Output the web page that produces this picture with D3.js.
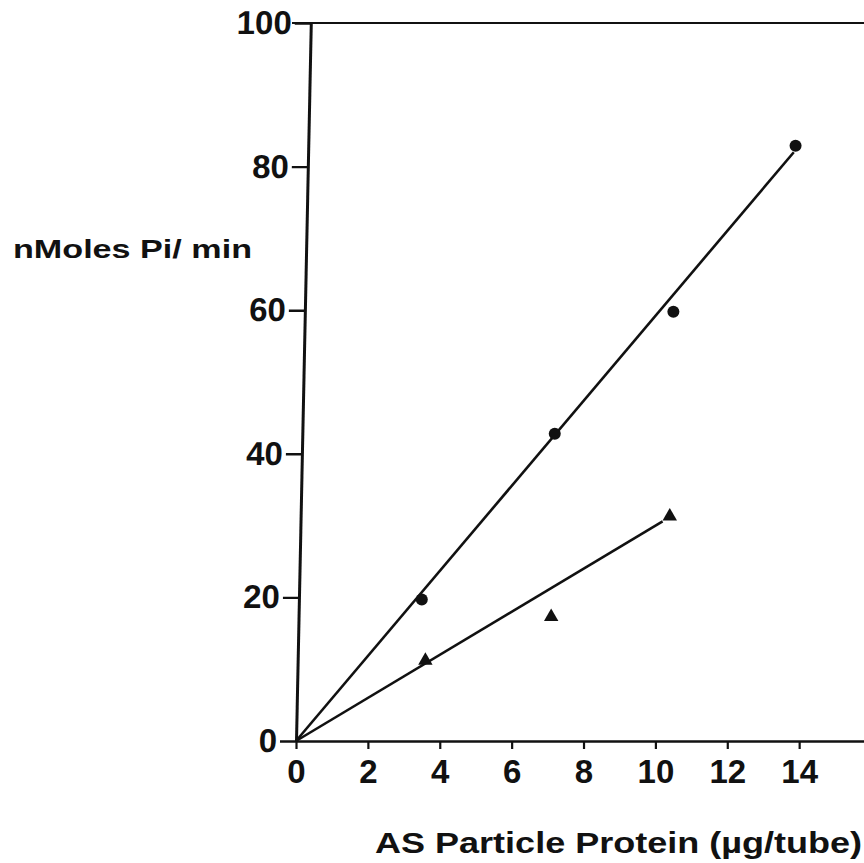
<!DOCTYPE html>
<html>
<head>
<meta charset="utf-8">
<script src="https://cdn.jsdelivr.net/npm/d3@7"></script>
<style>
  body { margin: 0; background: #fff; }
  svg { display: block; }
  .tick text { font-family: "Liberation Sans", Arial, sans-serif; font-weight: bold; font-size: 33px; fill: #111; }
</style>
</head>
<body>
<div id="chart"></div>
<script>
var svgWidth = 864;
var svgHeight = 863;

// values
var xTicks = [0, 2, 4, 6, 8, 10, 12, 14];
var yTicks = [0, 20, 40, 60, 80, 100];

var circleX = [3.5, 7.2, 10.5, 13.9];
var circleY = [19.7, 42.8, 59.8, 82.9];

var triangleX = [3.6, 7.1, 10.4];
var triangleY = [11.2, 17.3, 31.3];

// fitted lines through the origin
var circleFitX = [0, 13.85];
var circleFitY = [0, 82.0];
var triangleFitX = [0, 10.2];
var triangleFitY = [0, 30.6];

var x0 = 296, y0 = 741, yTop = 23;

var svg = d3.select("#chart")
  .append("svg")
  .attr("width", svgWidth)
  .attr("height", svgHeight);

var xScale = d3.scaleLinear()
  .domain([0, 16])
  .range([x0, x0 + 16 * 35.94]);

var yScale = d3.scaleLinear()
  .domain([0, 100])
  .range([y0, yTop]);

// top frame line
svg.append("line")
  .attr("x1", x0 - 4)
  .attr("x2", svgWidth)
  .attr("y1", yScale(100))
  .attr("y2", yScale(100))
  .attr("stroke", "#111")
  .attr("stroke-width", 2.2);

// x axis
var xAxis = svg.append("g")
  .attr("transform", `translate(0, ${y0})`)
  .call(d3.axisBottom(xScale).tickValues(xTicks).tickFormat(d3.format("d"))
    .tickSize(8).tickSizeOuter(0).tickPadding(11));

xAxis.select(".domain").attr("stroke", "#111").attr("stroke-width", 2.6);
xAxis.selectAll(".tick line").attr("stroke", "#111").attr("stroke-width", 2.2);

// y axis, a little tilted like the scanned drawing
var yAxis = svg.append("g")
  .attr("transform", `translate(${x0}, ${y0}) skewX(-1.18) translate(0, ${-y0})`)
  .call(d3.axisLeft(yScale).tickValues(yTicks).tickFormat(d3.format("d"))
    .tickSize(16).tickSizeOuter(0).tickPadding(3));

yAxis.select(".domain").attr("stroke", "#111").attr("stroke-width", 3);
yAxis.selectAll(".tick line").attr("stroke", "#111").attr("stroke-width", 2.4);

// fitted lines
var line = d3.line()
  .x(d => xScale(d[0]))
  .y(d => yScale(d[1]));

svg.append("path")
  .datum(d3.zip(circleFitX, circleFitY))
  .attr("d", line)
  .attr("fill", "none")
  .attr("stroke", "#111")
  .attr("stroke-width", 2.6);

svg.append("path")
  .datum(d3.zip(triangleFitX, triangleFitY))
  .attr("d", line)
  .attr("fill", "none")
  .attr("stroke", "#111")
  .attr("stroke-width", 2.6);

// circle points
svg.selectAll("circle.pt")
  .data(d3.zip(circleX, circleY))
  .enter()
  .append("circle")
  .attr("class", "pt")
  .attr("cx", d => xScale(d[0]))
  .attr("cy", d => yScale(d[1]))
  .attr("r", 6)
  .attr("fill", "#111");

// triangle points
var tri = d3.symbol().type(d3.symbolTriangle).size(90);
svg.selectAll("path.tri")
  .data(d3.zip(triangleX, triangleY))
  .enter()
  .append("path")
  .attr("class", "tri")
  .attr("d", tri)
  .attr("transform", d => `translate(${xScale(d[0])}, ${yScale(d[1])})`)
  .attr("fill", "#111");

// axis titles
svg.append("text")
  .attr("x", 13)
  .attr("y", 258)
  .attr("textLength", 239)
  .attr("lengthAdjust", "spacingAndGlyphs")
  .style("font-family", "Liberation Sans, Arial, sans-serif")
  .style("font-weight", "bold")
  .style("font-size", "25px")
  .attr("fill", "#111")
  .text("nMoles Pi/ min");

svg.append("text")
  .attr("x", 375)
  .attr("y", 853)
  .attr("textLength", 487)
  .attr("lengthAdjust", "spacingAndGlyphs")
  .style("font-family", "Liberation Sans, Arial, sans-serif")
  .style("font-weight", "bold")
  .style("font-size", "29px")
  .attr("fill", "#111")
  .text("AS Particle Protein (\u00b5g/tube)");
</script>
</body>
</html>
